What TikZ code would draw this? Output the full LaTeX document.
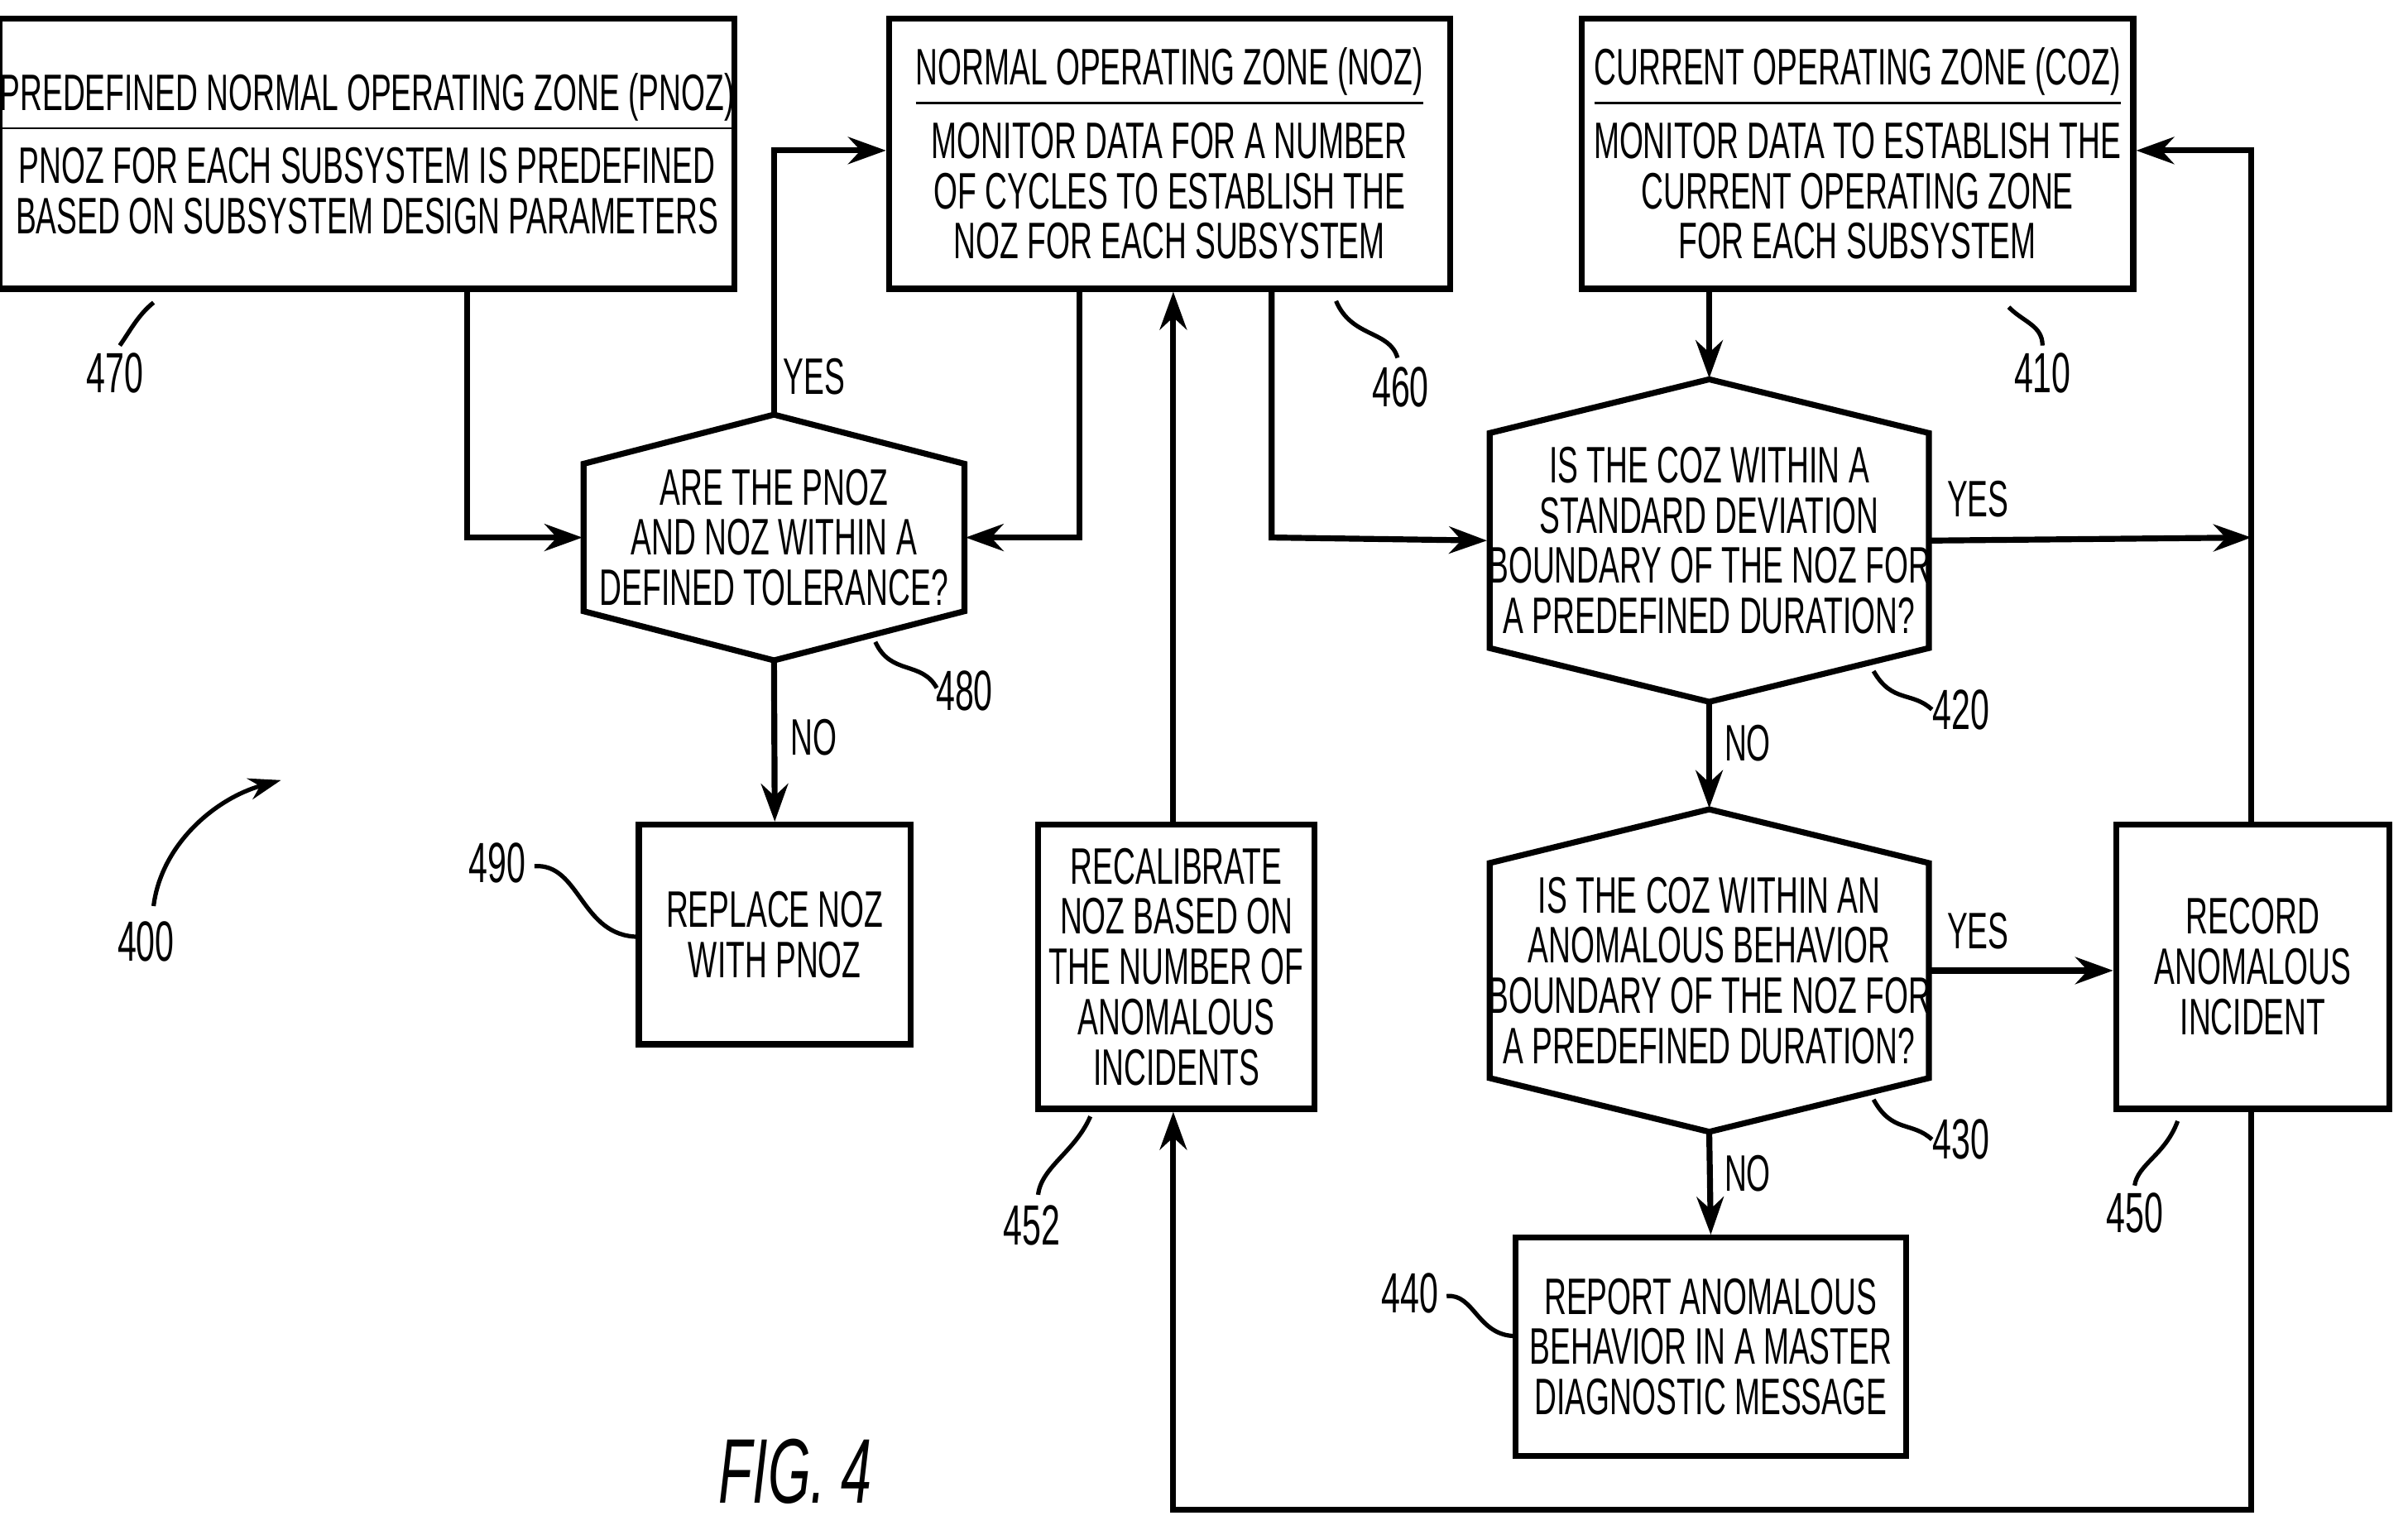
\documentclass[tikz,border=0pt]{standalone}
\usepackage{fontspec}
\setmainfont{Liberation Sans}[FakeStretch=0.6]
\usetikzlibrary{arrows.meta}
\begin{document}
\begin{tikzpicture}[x=0.01cm,y=-0.01cm,
  every node/.style={font=\fontsize{9.5}{9.3}\selectfont},
  box/.style={draw,line width=1.1pt,align=center,inner sep=0pt},
  tx/.style={align=center,inner sep=0pt},
  line/.style={line width=1.1pt},
  arr/.style={line width=1.1pt,-{Stealth[length=7pt,width=5pt]}},
  lead/.style={line width=0.8pt},
  lab/.style={font=\fontsize{10.5}{11}\selectfont}]
\useasboundingbox (0,0) rectangle (1568,996);
% boxes
\node[box,minimum width=4.54cm,minimum height=1.76cm] (n470) at (239,100) {\underline{PREDEFINED NORMAL OPERATING ZONE (PNOZ)}\\[2pt]PNOZ FOR EACH SUBSYSTEM IS PREDEFINED\\BASED ON SUBSYSTEM DESIGN PARAMETERS};
\node[box,minimum width=3.65cm,minimum height=1.76cm] (n460) at (761.5,100) {\underline{NORMAL OPERATING ZONE (NOZ)}\\[2pt]MONITOR DATA FOR A NUMBER\\OF CYCLES TO ESTABLISH THE\\NOZ FOR EACH SUBSYSTEM};
\node[box,minimum width=3.59cm,minimum height=1.76cm] (n410) at (1209.5,100) {\underline{CURRENT OPERATING ZONE (COZ)}\\[2pt]MONITOR DATA TO ESTABLISH THE\\CURRENT OPERATING ZONE\\FOR EACH SUBSYSTEM};
\node[box,minimum width=1.77cm,minimum height=1.43cm] (n490) at (504.5,608.5) {REPLACE NOZ\\WITH PNOZ};
\node[box,minimum width=1.8cm,minimum height=1.85cm] (n452) at (766,629.5) {RECALIBRATE\\NOZ BASED ON\\THE NUMBER OF\\ANOMALOUS\\INCIDENTS};
\node[box,minimum width=1.78cm,minimum height=1.85cm] (n450) at (1467,629.5) {RECORD\\ANOMALOUS\\INCIDENT};
\node[box,minimum width=2.54cm,minimum height=1.42cm] (n440) at (1114,877) {REPORT ANOMALOUS\\BEHAVIOR IN A MASTER\\DIAGNOSTIC MESSAGE};
% hexagons
\draw[line] (504,270) -- (628,302) -- (628,398) -- (504,430) -- (380,398) -- (380,302) -- cycle;
\node[tx,minimum width=2.48cm,minimum height=1.6cm] (h480) at (504,350) {ARE THE PNOZ\\AND NOZ WITHIN A\\DEFINED TOLERANCE?};
\draw[line] (1113,247) -- (1256,282) -- (1256,422) -- (1113,457) -- (970,422) -- (970,282) -- cycle;
\node[tx,minimum width=2.86cm,minimum height=2.1cm] (h420) at (1113,352) {IS THE COZ WITHIN A\\STANDARD DEVIATION\\BOUNDARY OF THE NOZ FOR\\A PREDEFINED DURATION?};
\draw[line] (1113,527) -- (1256,562) -- (1256,702) -- (1113,737) -- (970,702) -- (970,562) -- cycle;
\node[tx,minimum width=2.86cm,minimum height=2.1cm] (h430) at (1113,632) {IS THE COZ WITHIN AN\\ANOMALOUS BEHAVIOR\\BOUNDARY OF THE NOZ FOR\\A PREDEFINED DURATION?};
% connectors
\coordinate (c1) at (304,350);
\draw[arr] (n470.south -| c1) -- (c1) -- (h480.west);
\coordinate (c2) at (703,350);
\draw[arr] (n460.south -| c2) -- (c2) -- (h480.east);
\coordinate (c3) at (504,98);
\draw[arr] (h480.north) -- (c3) -- (n460.west |- c3);
\draw[arr] (h480.south) -- (n490.north);
\coordinate (c4) at (828,350);
\draw[arr] (n460.south -| c4) -- (c4) -- (h420.west);
\draw[arr] (n410.south -| h420.north) -- (h420.north);
\coordinate (c5) at (1466,350);
\draw[arr] (h420.east) -- (c5);
\draw[arr] (h420.south) -- (h430.north);
\draw[arr] (h430.east) -- (n450.west |- h430.east);
\draw[arr] (h430.south) -- (n440.north);
\coordinate (c6) at (1466,98);
\draw[arr] (n450.north -| c6) -- (c6) -- (n410.east |- c6);
\coordinate (c7) at (1466,983);
\coordinate (c8) at (764,983);
\draw[arr] (n450.south -| c7) -- (c7) -- (c8) -- (n452.south -| c8);
\draw[arr] (n452.north -| c8) -- (n460.south -| c8);
% branch labels
\node[tx] (y1) at (530,245) {YES};
\node[tx] (no1) at (530,480) {NO};
\node[tx] (y2) at (1288,325) {YES};
\node[tx] (no2) at (1138,484) {NO};
\node[tx] (y3) at (1288,606) {YES};
\node[tx] (no3) at (1138,764) {NO};
% reference numerals
\node[lab] (l470) at (75,243) {470};
\draw[lead] (100,197) .. controls (90,205) and (85,215) .. (78,225);
\node[lab] (l460) at (912,252) {460};
\draw[lead] (870,196) .. controls (880,220) and (905,215) .. (910,233);
\node[lab] (l410) at (1330,243) {410};
\draw[lead] (1308,200) .. controls (1318,210) and (1330,212) .. (1330,225);
\node[lab] (l480) at (628,450) {480};
\draw[lead] (570,418) .. controls (580,440) and (600,430) .. (610,448);
\node[lab] (l420) at (1277,462) {420};
\draw[lead] (1220,437) .. controls (1232,458) and (1245,450) .. (1258,462);
\node[lab] (l430) at (1277,742) {430};
\draw[lead] (1220,716) .. controls (1232,738) and (1245,730) .. (1258,742);
\node[lab] (l490) at (324,562) {490};
\draw[lead] (348,564) .. controls (378,562) and (378,610) .. (416,610);
\node[lab] (l452) at (672,798) {452};
\draw[lead] (710,727) .. controls (700,750) and (678,760) .. (676,778);
\node[lab] (l450) at (1390,790) {450};
\draw[lead] (1418,730) .. controls (1410,752) and (1392,758) .. (1390,772);
\node[lab] (l440) at (918,842) {440};
\draw[lead] (942,844) .. controls (960,842) and (962,870) .. (987,870);
\node[lab] (l400) at (95,613) {400};
\draw[lead,-{Stealth[length=6pt,width=4pt]}] (100,590) .. controls (105,550) and (140,520) .. (183,508);
\node[font=\fontsize{17}{18}\selectfont\itshape] (fig) at (518,958) {FIG. 4};
\end{tikzpicture}
\end{document}
